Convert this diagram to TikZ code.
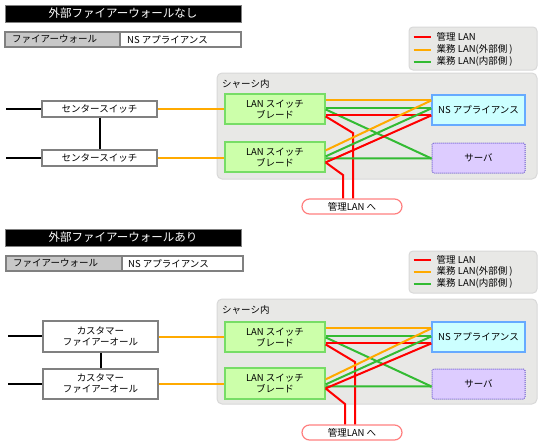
\documentclass[tikz,border=0pt]{standalone}
\usepackage{fontspec}
\setmainfont{Noto Sans CJK JP}
\usetikzlibrary{calc}
\definecolor{cred}{HTML}{FF0000}
\definecolor{corange}{HTML}{FFAA00}
\definecolor{cgreen}{HTML}{33BB33}
\definecolor{cgray}{HTML}{808080}
\definecolor{tabgray}{HTML}{C8C8C8}
\definecolor{chfill}{HTML}{E8E8E6}
\definecolor{chdraw}{HTML}{D8D8D8}
\definecolor{bladef}{HTML}{CCFFAA}
\definecolor{bladeb}{HTML}{77DD66}
\definecolor{nsf}{HTML}{CCFFFF}
\definecolor{nsb}{HTML}{66AAFF}
\definecolor{svf}{HTML}{DDCCFF}
\definecolor{svb}{HTML}{6655CC}
\definecolor{pillb}{HTML}{FF8080}
\begin{document}
\begin{tikzpicture}[x=1pt,y=-1pt,
  txt/.style={font=\fontsize{9.5pt}{11pt}\selectfont},
  titlebar/.style={fill=black, draw=cgray, line width=0.8pt, text=white, minimum width=236pt, minimum height=17pt, inner sep=0pt, font=\fontsize{11.5pt}{13pt}\selectfont},
  tabcell/.style={draw=cgray, line width=1.2pt, minimum height=15pt, inner sep=0pt, txt},
  legbox/.style={fill=chfill, draw=chdraw, line width=1pt, rounded corners=4pt, minimum width=128pt, inner sep=0pt},
  chassis/.style={fill=chfill, draw=chdraw, line width=1pt, rounded corners=5pt, minimum width=320pt, inner sep=0pt},
  bladebox/.style={fill=bladef, draw=bladeb, line width=1.2pt, minimum width=100pt, minimum height=30pt, inner sep=0pt, align=center, txt},
  nsbox/.style={fill=nsf, draw=nsb, line width=1.2pt, minimum width=93pt, minimum height=30pt, inner sep=0pt, txt},
  svbox/.style={fill=svf, draw=svb, line width=1pt, densely dotted, rounded corners=1.5pt, minimum width=93pt, minimum height=30pt, inner sep=0pt, txt},
  pillbox/.style={fill=white, draw=pillb, line width=1.2pt, rounded corners=7.5pt, minimum width=100pt, minimum height=15pt, inner sep=0pt, txt},
  whitebox/.style={fill=white, draw=cgray, line width=1.2pt, minimum width=115pt, inner sep=0pt, align=center, txt},
  blk/.style={line width=2pt, black},
  red/.style={line width=2pt, cred},
  org/.style={line width=2pt, corange},
  grn/.style={line width=2pt, cgreen},
  legtxt/.style={txt, anchor=west, inner sep=0pt}
]
\useasboundingbox (0,0) rectangle (550,447);

% ================= TOP SECTION =================
\node[titlebar] (t1) at (123,13.5) {外部ファイアーウォールなし};
\node[tabcell, fill=tabgray, minimum width=115pt] (ta1) at (62.5,39.5) {};
\node[tabcell, fill=white, minimum width=121pt] (tb1) at (180.5,39.5) {};
\node[txt, anchor=west, inner sep=0pt] (ta1t) at (12,39.5) {ファイアーウォール};
\node[txt, anchor=west, inner sep=0pt] (tb1t) at (127,39.5) {NS アプライアンス};

\node[legbox, minimum height=43pt] (lg1) at (473,48.5) {};
\draw[red] ($(lg1.north west)+(5,10)$) -- ++(17,0);
\draw[org] ($(lg1.north west)+(5,23)$) -- ++(17,0);
\draw[grn] ($(lg1.north west)+(5,35)$) -- ++(17,0);
\node[legtxt] (l1a) at ($(lg1.north west)+(28,10)$) {管理 LAN};
\node[legtxt] (l1b) at ($(lg1.north west)+(28,23)$) {業務 LAN(外部側 )};
\node[legtxt] (l1c) at ($(lg1.north west)+(28,35)$) {業務 LAN(内部側 )};

\node[chassis, minimum height=106pt] (ch1) at (377,126) {};
\node[txt, anchor=west, inner sep=0pt] (ch1t) at (222,84) {シャーシ内};

\node[bladebox] (b11) at (275,109) {LAN スイッチ\\ブレード};
\node[bladebox] (b12) at (275,157) {LAN スイッチ\\ブレード};
\node[nsbox] (ns1) at (478.5,110) {NS アプライアンス};
\node[svbox] (sv1) at (478.5,158) {サーバ};
\node[pillbox] (p1) at (352,206.5) {管理LAN へ};

\node[whitebox, minimum height=16pt] (cs1) at (99.5,109) {センタースイッチ};
\node[whitebox, minimum height=16pt] (cs2) at (99.5,158) {センタースイッチ};
\coordinate (e11) at (6,109);
\coordinate (e12) at (6,158);
\draw[blk] (e11) -- (cs1.west);
\draw[blk] (e12) -- (cs2.west);
\draw[blk] (cs1.south) -- (cs2.north);
\draw[org] (cs1.east) -- (b11.west);
\draw[org] (cs2.east) -- (cs2.east -| b12.west);

% blade 1 lines
\draw[org] ($(b11.north east)+(0,7)$) -- ($(ns1.north west)+(0,6)$);
\draw[grn] ($(b11.north east)+(0,15)$) -- ($(ns1.north west)+(0,14)$);
\draw[grn] ($(b11.north east)+(0,16)$) -- ($(sv1.north west)+(0,16)$);
\draw[red] ($(b11.north east)+(0,22)$) -- ($(ns1.north west)+(0,21)$);
\coordinate (k11) at (353,133);
\draw[red] ($(b11.north east)+(0,23)$) -- (k11) -- (k11 |- p1.north);
% blade 2 lines
\draw[org] ($(b12.north east)+(0,9)$) -- ($(ns1.north west)+(0,6)$);
\draw[grn] ($(b12.north east)+(0,15)$) -- ($(ns1.north west)+(0,14)$);
\draw[grn] ($(b12.north east)+(0,17)$) -- ($(sv1.north west)+(0,16)$);
\draw[red] ($(b12.north east)+(0,21)$) -- ($(ns1.north west)+(0,21)$);
\coordinate (k12) at (343,175);
\draw[red] ($(b12.north east)+(0,21)$) -- (k12) -- (k12 |- p1.north);

% ================= BOTTOM SECTION =================
\node[titlebar] (t2) at (123,237.5) {外部ファイアーウォールあり};
\node[tabcell, fill=tabgray, minimum width=116pt] (ta2) at (64,263.5) {};
\node[tabcell, fill=white, minimum width=121pt] (tb2) at (182.5,263.5) {};
\node[txt, anchor=west, inner sep=0pt] (ta2t) at (13,263.5) {ファイアーウォール};
\node[txt, anchor=west, inner sep=0pt] (tb2t) at (128,263.5) {NS アプライアンス};

\node[legbox, minimum height=42pt] (lg2) at (473,272) {};
\draw[red] ($(lg2.north west)+(5,9)$) -- ++(17,0);
\draw[org] ($(lg2.north west)+(5,21)$) -- ++(17,0);
\draw[grn] ($(lg2.north west)+(5,33)$) -- ++(17,0);
\node[legtxt] (l2a) at ($(lg2.north west)+(28,9)$) {管理 LAN};
\node[legtxt] (l2b) at ($(lg2.north west)+(28,21)$) {業務 LAN(外部側 )};
\node[legtxt] (l2c) at ($(lg2.north west)+(28,33)$) {業務 LAN(内部側 )};

\node[chassis, minimum height=105pt] (ch2) at (377,351.5) {};
\node[txt, anchor=west, inner sep=0pt] (ch2t) at (222,309.5) {シャーシ内};

\node[bladebox] (b21) at (275,337) {LAN スイッチ\\ブレード};
\node[bladebox, minimum height=31pt] (b22) at (275,383.5) {LAN スイッチ\\ブレード};
\node[nsbox] (ns2) at (478.5,337) {NS アプライアンス};
\node[svbox] (sv2) at (478.5,384) {サーバ};
\node[pillbox] (p2) at (352,432.5) {管理LAN へ};

\node[whitebox, minimum height=31pt] (cf1) at (100.5,336.5) {カスタマー\\ファイアーオール};
\node[whitebox, minimum height=30pt] (cf2) at (100.5,384) {カスタマー\\ファイアーオール};
\coordinate (e21) at (8,336);
\coordinate (e22) at (8,384);
\draw[blk] (e21) -- (e21 -| cf1.west);
\draw[blk] (e22) -- (cf2.west);
\draw[blk] (cf1.south) -- (cf2.north);
\draw[org] (cf1.east |- b21.west) -- (b21.west);
\draw[org] (cf2.east) -- (cf2.east -| b22.west);

% blade 1 lines
\draw[org] ($(b21.north east)+(0,7)$) -- ($(ns2.north west)+(0,7)$);
\draw[grn] ($(b21.north east)+(0,15)$) -- ($(ns2.north west)+(0,15)$);
\draw[grn] ($(b21.north east)+(0,16)$) -- ($(sv2.north west)+(0,18)$);
\draw[red] ($(b21.north east)+(0,22)$) -- ($(ns2.north west)+(0,22)$);
\coordinate (k21) at (355,362);
\draw[red] ($(b21.north east)+(0,23)$) -- (k21) -- (k21 |- p2.north);
% blade 2 lines
\draw[org] ($(b22.north east)+(0,12)$) -- ($(ns2.north west)+(0,7)$);
\draw[grn] ($(b22.north east)+(0,17)$) -- ($(ns2.north west)+(0,15)$);
\draw[grn] ($(b22.north east)+(0,19)$) -- ($(sv2.north west)+(0,18)$);
\draw[red] ($(b22.north east)+(0,21)$) -- ($(ns2.north west)+(0,22)$);
\coordinate (k22) at (345,404);
\draw[red] ($(b22.north east)+(0,21)$) -- (k22) -- (k22 |- p2.north);
\end{tikzpicture}
\end{document}
